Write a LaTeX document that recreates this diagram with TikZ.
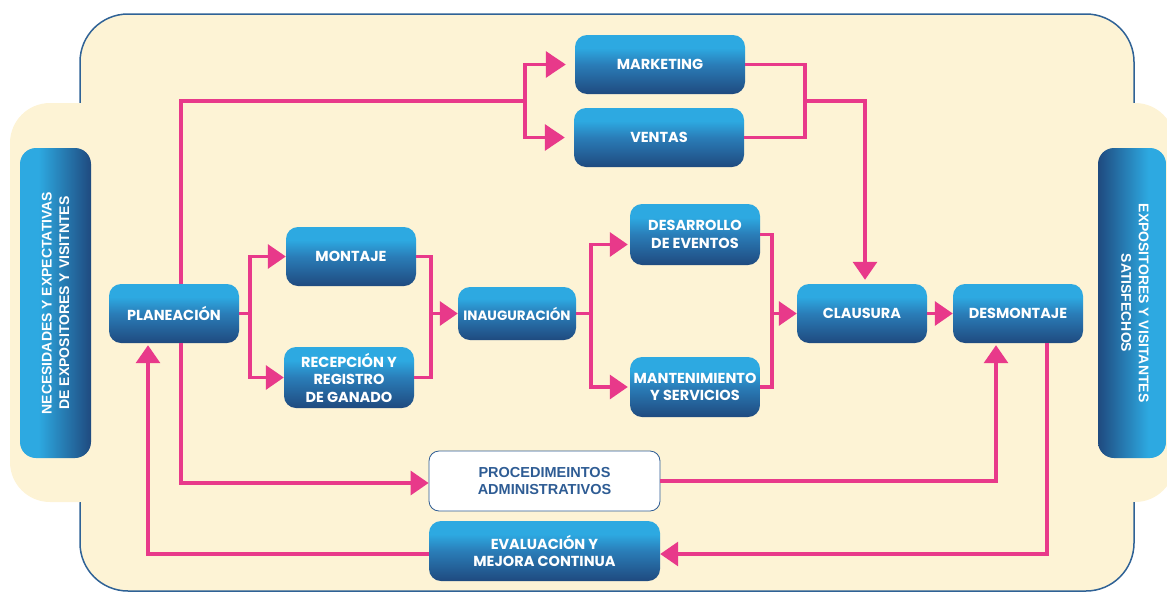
\documentclass[tikz,border=0pt]{standalone}
\usepackage{fontspec}
\setmainfont{Liberation Sans}
\newfontfamily\bx{Poppins}
\usetikzlibrary{arrows.meta}
\definecolor{cream}{HTML}{FDF3D5}
\definecolor{frame}{HTML}{2F6296}
\definecolor{lt}{HTML}{2DA9E1}
\definecolor{dk}{HTML}{1F4A7F}
\definecolor{mid}{HTML}{2A7DB8}
\definecolor{pk}{HTML}{E8398A}
\definecolor{procblue}{HTML}{2E5C94}
\pgfdeclareverticalshading{boxv}{100bp}{color(0bp)=(dk); color(25bp)=(dk); color(50bp)=(mid); color(64bp)=(lt); color(100bp)=(lt)}
\pgfdeclarehorizontalshading{boxl}{100bp}{color(0bp)=(lt); color(38bp)=(lt); color(75bp)=(dk); color(100bp)=(dk)}
\pgfdeclarehorizontalshading{boxr}{100bp}{color(0bp)=(dk); color(25bp)=(dk); color(62bp)=(lt); color(100bp)=(lt)}
\tikzset{
  box/.style={shade, shading=boxv, rounded corners=12pt, minimum width=130pt, minimum height=59pt,
    text=white, font=\bx\bfseries\fontsize{14.5}{17.5}\selectfont, align=center, inner sep=0pt},
  procbox/.style={fill=white, draw=procblue, line width=0.8pt, rounded corners=10pt, minimum width=231pt,
    minimum height=60pt, text=procblue, font=\bfseries\fontsize{14.5}{17.5}\selectfont, align=center, inner sep=0pt},
  vbox/.style={shade, rounded corners=16pt, minimum width=71pt, minimum height=310pt, inner sep=0pt},
  vtext/.style={text=white, font=\bfseries\fontsize{14}{17.5}\selectfont, align=center, inner sep=0pt},
  pl/.style={draw=pk, line width=3.2pt},
  ar/.style={pl, -{Triangle[length=18pt,width=24pt]}},
  bigar/.style={pl, -{Triangle[length=20pt,width=26pt]}},
}
\begin{document}
\begin{tikzpicture}[x=1pt,y=-1pt]
\useasboundingbox (0,0) rectangle (1167,592);
% background
\draw[frame, line width=1.5pt, fill=cream, rounded corners=48pt] (80,14) rectangle (1134,591);
\fill[cream, rounded corners=40pt] (10,103) rectangle (120,502);
\fill[cream, rounded corners=40pt] (1095,103) rectangle (1175,502);
% side boxes
\node[vbox, shading=boxl] (lvb) at (55.5,303) {};
\node[vtext, rotate=90] (lvt) at (lvb.center) {NECESIDADES Y EXPECTATIVAS\\DE EXPOSITORES Y VISITNTES};
\node[vbox, shading=boxr, minimum width=68pt] (rvb) at (1132,303) {};
\node[vtext, rotate=-90] (rvt) at ([xshift=3pt]rvb.center) {EXPOSITORES Y VISITANTES\\SATISFECHOS};
% boxes
\node[box, minimum width=170pt] (mkt) at (660,64.5) {MARKETING};
\node[box, minimum width=170pt] (ven) at (659,137.5) {VENTAS};
\node[box] (plan) at (174,313.5) {PLANEACIÓN};
\node[box] (mont) at (351,256.5) {MONTAJE};
\node[box, minimum height=61pt] (rec) at (349,377.5) {RECEPCIÓN Y\\REGISTRO\\DE GANADO};
\node[box, minimum width=118pt, minimum height=53pt, font=\bx\bfseries\fontsize{13.5}{17}\selectfont] (inau) at (517,313.5) {INAUGURACIÓN};
\node[box, minimum height=61pt] (des) at (695,234.5) {DESARROLLO\\DE EVENTOS};
\node[box, minimum height=60pt] (man) at (695,387) {MANTENIMIENTO\\Y SERVICIOS};
\node[box] (cla) at (862,313.5) {CLAUSURA};
\node[box] (dsm) at (1018,313.5) {DESMONTAJE};
\node[procbox] (proc) at (544.5,481) {PROCEDIMEINTOS\\ADMINISTRATIVOS};
\node[box, minimum width=231pt, minimum height=60pt] (eval) at (544.5,551) {EVALUACIÓN Y\\MEJORA CONTINUA};
% junctions
\coordinate (jmv) at (525,101);
\coordinate (jvc) at (805,101);
\coordinate (jpm) at (250,313.5);
\coordinate (jmi) at (431,313.5);
\coordinate (jid) at (591,313.5);
\coordinate (jdc) at (772,313.5);
% connectors
\draw[pl] ([xshift=7pt]plan.north) |- (jmv);
\draw[bigar, shorten >=9pt] (jmv) |- (mkt.west);
\draw[bigar, shorten >=9pt] (jmv) |- (ven.west);
\draw[pl] (mkt.east) -| (jvc);
\draw[pl] (ven.east) -| (jvc);
\draw[ar, shorten >=4pt] (jvc) -| ([xshift=3pt]cla.north);
\draw[pl] (plan.east) -- (jpm);
\draw[ar] (jpm) |- (mont.west);
\draw[ar] (jpm) |- (rec.west);
\draw[pl] (mont.east) -| (jmi);
\draw[pl] (rec.east) -| (jmi);
\draw[ar] (jmi) -- (inau.west);
\draw[pl] (inau.east) -- (jid);
\draw[ar, shorten >=2pt] (jid) |- ([yshift=-10pt]des.west);
\draw[ar, shorten >=2pt] (jid) |- (man.west);
\draw[pl] (des.east) -| (jdc);
\draw[pl] (man.east) -| (jdc);
\draw[ar] (jdc) -- (cla.west);
\draw[ar] (cla.east) -- (dsm.west);
\draw[ar] ([xshift=7pt]plan.south) |- ([yshift=-2pt]proc.west);
\draw[ar, shorten >=2pt] (proc.east) -| ([xshift=-22pt]dsm.south);
\draw[ar] ([xshift=29pt]dsm.south) |- ([yshift=-3pt]eval.east);
\draw[ar, shorten >=2pt] ([yshift=-3pt]eval.west) -| ([xshift=-26pt]plan.south);
\end{tikzpicture}
\end{document}
